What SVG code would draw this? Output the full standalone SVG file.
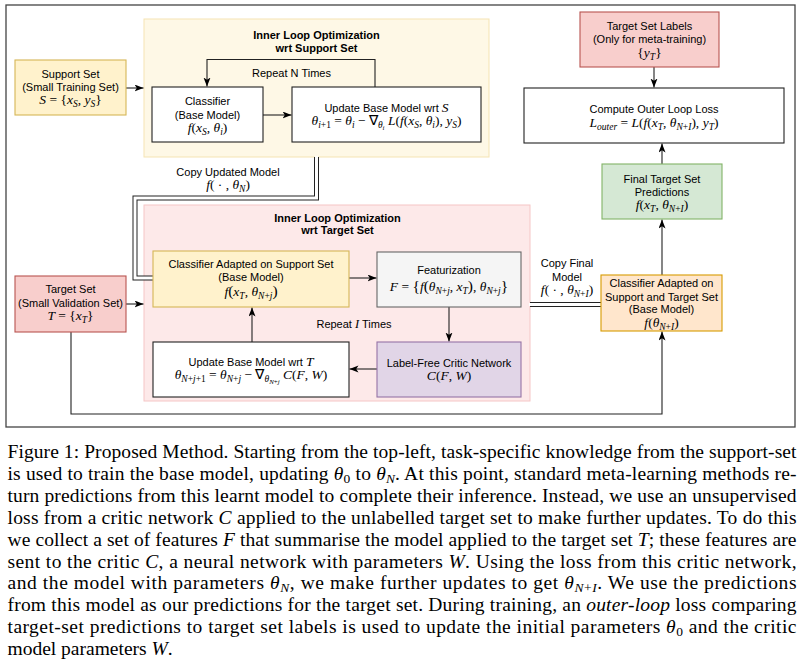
<svg xmlns="http://www.w3.org/2000/svg" width="802" height="661" viewBox="0 0 802 661">
<style>
.t{font-family:"Liberation Sans",Arial,Helvetica,sans-serif;font-size:11px;text-anchor:middle;fill:#000}
.b{font-weight:bold}
.m{font-family:"Liberation Serif","Times New Roman",serif;font-size:13.5px;text-anchor:middle;fill:#000}
.i{font-style:italic}
.s{font-size:9.5px}
.ss{font-size:7px}
.cap{font-family:"Liberation Serif","Times New Roman",serif;font-size:19.5px;fill:#000}
.cs{font-size:13.5px}
.conn{fill:none;stroke:#222;stroke-width:1.1}
.dblo{fill:none;stroke:#222;stroke-width:5}
.dbli{fill:none;stroke:#fff;stroke-width:3}
.wbox{fill:#fff;stroke:#222;stroke-width:1.1}
.yel{fill:#fff2cc;stroke:#d6b656;stroke-width:1.1}
.red{fill:#f8cecc;stroke:#b85450;stroke-width:1.1}
.org{fill:#ffe6cc;stroke:#d79b00;stroke-width:1.1}
.grn{fill:#d5e8d4;stroke:#82b366;stroke-width:1.1}
.pur{fill:#e1d5e7;stroke:#9673a6;stroke-width:1.1}
.gry{fill:#f5f5f5;stroke:#666;stroke-width:1.1}
.bp{font-size:15.5px}
</style>
<defs>
<marker id="ah" markerUnits="userSpaceOnUse" markerWidth="10" markerHeight="8" refX="9" refY="3.5" orient="auto">
<path d="M0,0 L9,3.5 L0,7 L2.3,3.5 z" fill="#000"/>
</marker>
</defs>
<rect width="802" height="661" fill="#fff"/>
<rect id="frame" x="6" y="5" width="789" height="422" fill="#fff" stroke="#444" stroke-width="1.3"/>

<g id="support-loop">
<rect x="144" y="19" width="345" height="138" fill="#fef8e6" stroke="#f5e4b3" stroke-width="1"/>
<text class="t b" x="316.5" y="38.5">Inner Loop Optimization</text>
<text class="t b" x="316.5" y="51.7">wrt Support Set</text>
<text class="t" x="291.5" y="76.7">Repeat N Times</text>
</g>
<g id="target-loop">
<rect x="144" y="205" width="386" height="196" fill="#fde9e9" stroke="#f5c6c6" stroke-width="1"/>
<text class="t b" x="337.5" y="222.3">Inner Loop Optimization</text>
<text class="t b" x="337.5" y="234.3">wrt Target Set</text>
<text class="t" x="354" y="328.3">Repeat <tspan class="m i" style="font-size:12.5px">I</tspan> Times</text>
</g>

<g id="connectors">
<path class="conn" d="M126,88 L143.5,88" marker-end="url(#ah)"/>
<path class="conn" d="M263,115 L291.5,115" marker-end="url(#ah)"/>
<path class="conn" d="M375,87 L375,59.5 L207,59.5 L207,86.5" marker-end="url(#ah)"/>
<path class="dblo" d="M316.5,157 L316.5,198 L135,198 L135,278 L153,278"/>
<path class="dbli" d="M316.5,156 L316.5,198 L135,198 L135,278 L153,278"/>
<path class="conn" d="M126,304 L143.5,304" marker-end="url(#ah)"/>
<path class="conn" d="M349,278 L376.5,278" marker-end="url(#ah)"/>
<path class="conn" d="M449,307 L449,341.5" marker-end="url(#ah)"/>
<path class="conn" d="M377,369 L349.5,369" marker-end="url(#ah)"/>
<path class="conn" d="M252,342 L252,307.5" marker-end="url(#ah)"/>
<path class="dblo" d="M530,304.5 L601,304.5"/>
<path class="dbli" d="M529,304.5 L602,304.5"/>
<path class="conn" d="M71,332 L71,414 L662,414 L662,331.5" marker-end="url(#ah)"/>
<path class="conn" d="M662,275 L662,219.5" marker-end="url(#ah)"/>
<path class="conn" d="M662,164 L662,143.5" marker-end="url(#ah)"/>
<path class="conn" d="M654,67 L654,87.5" marker-end="url(#ah)"/>
<text class="t" x="228" y="175.7">Copy Updated Model</text>
<text class="m" x="228" y="188.5"><tspan class="i">f</tspan>( · , <tspan class="i">θ</tspan><tspan class="s i" dy="3">N</tspan><tspan dy="-3">)</tspan></text>
<text class="t" x="567" y="267.3">Copy Final</text>
<text class="t" x="567" y="280.7">Model</text>
<text class="m" x="567" y="293.5"><tspan class="i">f</tspan>( · , <tspan class="i">θ</tspan><tspan class="s" dy="3"><tspan class="i">N</tspan>+<tspan class="i">I</tspan></tspan><tspan dy="-3">)</tspan></text>
</g>

<g id="support-set">
<rect class="yel" x="15" y="60" width="111" height="55"/>
<text class="t" x="70.5" y="77.5">Support Set</text>
<text class="t" x="70.5" y="90.7">(Small Training Set)</text>
<text class="m" x="70.5" y="104.3"><tspan class="i">S</tspan> = {<tspan class="i">x</tspan><tspan class="s i" dy="3">S</tspan><tspan dy="-3">, </tspan><tspan class="i">y</tspan><tspan class="s i" dy="3">S</tspan><tspan dy="-3">}</tspan></text>
</g>

<g id="classifier">
<rect class="wbox" x="152" y="87" width="111" height="55"/>
<text class="t" x="207.5" y="105">Classifier</text>
<text class="t" x="207.5" y="118.5">(Base Model)</text>
<text class="m" x="207.5" y="131.5"><tspan class="i">f</tspan>(<tspan class="i">x</tspan><tspan class="s i" dy="3">S</tspan><tspan dy="-3">, </tspan><tspan class="i">θ</tspan><tspan class="s i" dy="3">i</tspan><tspan dy="-3">)</tspan></text>
</g>

<g id="update-s">
<rect class="wbox" x="292" y="87" width="189" height="55"/>
<text class="t" x="386.5" y="111.7">Update Base Model wrt <tspan class="m i">S</tspan></text>
<text class="m" x="386.5" y="125.3"><tspan class="i">θ</tspan><tspan class="s" dy="3"><tspan class="i">i</tspan>+1</tspan><tspan dy="-3"> = </tspan><tspan class="i">θ</tspan><tspan class="s i" dy="3">i</tspan><tspan dy="-3"> − ∇</tspan><tspan class="s i" dy="3">θ</tspan><tspan class="ss i" dy="1.5">i</tspan><tspan class="i" dy="-4.5"> L</tspan>(<tspan class="i">f</tspan>(<tspan class="i">x</tspan><tspan class="s i" dy="3">S</tspan><tspan dy="-3">, </tspan><tspan class="i">θ</tspan><tspan class="s i" dy="3">i</tspan><tspan dy="-3">), </tspan><tspan class="i">y</tspan><tspan class="s i" dy="3">S</tspan><tspan dy="-3">)</tspan></text>
</g>

<g id="target-set">
<rect class="red" x="15" y="276" width="111" height="56"/>
<text class="t" x="70.5" y="293.3">Target Set</text>
<text class="t" x="70.5" y="306.7">(Small Validation Set)</text>
<text class="m" x="70.5" y="320.3"><tspan class="i">T</tspan> = {<tspan class="i">x</tspan><tspan class="s i" dy="3">T</tspan><tspan dy="-3">}</tspan></text>
</g>

<g id="adapted-support">
<rect class="yel" x="153" y="251" width="196" height="56"/>
<text class="t" x="251" y="268">Classifier Adapted on Support Set</text>
<text class="t" x="251" y="281.2">(Base Model)</text>
<text class="m" x="251" y="296.3"><tspan class="i">f</tspan><tspan class="bp">(</tspan><tspan class="i">x</tspan><tspan class="s i" dy="3">T</tspan><tspan dy="-3">, </tspan><tspan class="i">θ</tspan><tspan class="s" dy="3"><tspan class="i">N</tspan>+<tspan class="i">j</tspan></tspan><tspan dy="-3" class="bp">)</tspan></text>
</g>

<g id="featurization">
<rect class="gry" x="377" y="252" width="144" height="55"/>
<text class="t" x="449" y="274" fill="#333">Featurization</text>
<text class="m" x="449" y="291" fill="#333"><tspan class="i">F</tspan> = <tspan class="bp">{</tspan><tspan class="i">f</tspan><tspan class="bp">(</tspan><tspan class="i">θ</tspan><tspan class="s" dy="3"><tspan class="i">N</tspan>+<tspan class="i">j</tspan></tspan><tspan dy="-3">, </tspan><tspan class="i">x</tspan><tspan class="s i" dy="3">T</tspan><tspan dy="-3" class="bp">)</tspan>, <tspan class="i">θ</tspan><tspan class="s" dy="3"><tspan class="i">N</tspan>+<tspan class="i">j</tspan></tspan><tspan dy="-3" class="bp">}</tspan></text>
</g>

<g id="critic">
<rect class="pur" x="377" y="342" width="144" height="55"/>
<text class="t" x="449" y="366.7">Label-Free Critic Network</text>
<text class="m" x="449" y="379.5"><tspan class="i">C</tspan>(<tspan class="i">F</tspan>, <tspan class="i">W</tspan>)</text>
</g>

<g id="update-t">
<rect class="wbox" x="153" y="342" width="196" height="55"/>
<text class="t" x="251" y="365.5">Update Base Model wrt <tspan class="m i">T</tspan></text>
<text class="m" x="251" y="379.3"><tspan class="i">θ</tspan><tspan class="s" dy="3"><tspan class="i">N</tspan>+<tspan class="i">j</tspan>+1</tspan><tspan dy="-3"> = </tspan><tspan class="i">θ</tspan><tspan class="s" dy="3"><tspan class="i">N</tspan>+<tspan class="i">j</tspan></tspan><tspan dy="-3"> − ∇</tspan><tspan class="s i" dy="3">θ</tspan><tspan class="ss" dy="1.5"><tspan class="i">N</tspan>+<tspan class="i">j</tspan></tspan><tspan class="i" dy="-4.5"> C</tspan>(<tspan class="i">F</tspan>, <tspan class="i">W</tspan>)</text>
</g>

<g id="adapted-both">
<rect class="org" x="601" y="275" width="121" height="56"/>
<text class="t" x="661.5" y="287.3">Classifier Adapted on</text>
<text class="t" x="661.5" y="300.7">Support and Target Set</text>
<text class="t" x="661.5" y="313.3">(Base Model)</text>
<text class="m" x="661.5" y="326.5"><tspan class="i">f</tspan>(<tspan class="i">θ</tspan><tspan class="s" dy="3"><tspan class="i">N</tspan>+<tspan class="i">I</tspan></tspan><tspan dy="-3">)</tspan></text>
</g>

<g id="final-predictions">
<rect class="grn" x="602" y="164" width="120" height="55"/>
<text class="t" x="662" y="182.7">Final Target Set</text>
<text class="t" x="662" y="195.7">Predictions</text>
<text class="m" x="662" y="208.8"><tspan class="i">f</tspan>(<tspan class="i">x</tspan><tspan class="s i" dy="3">T</tspan><tspan dy="-3">, </tspan><tspan class="i">θ</tspan><tspan class="s" dy="3"><tspan class="i">N</tspan>+<tspan class="i">I</tspan></tspan><tspan dy="-3">)</tspan></text>
</g>

<g id="outer-loss">
<rect class="wbox" x="524" y="88" width="260" height="55"/>
<text class="t" x="654" y="112.7">Compute Outer Loop Loss</text>
<text class="m" x="654" y="127"><tspan class="i">L</tspan><tspan class="s i" dy="3">outer</tspan><tspan dy="-3"> = </tspan><tspan class="i">L</tspan>(<tspan class="i">f</tspan>(<tspan class="i">x</tspan><tspan class="s i" dy="3">T</tspan><tspan dy="-3">, </tspan><tspan class="i">θ</tspan><tspan class="s" dy="3"><tspan class="i">N</tspan>+<tspan class="i">I</tspan></tspan><tspan dy="-3">), </tspan><tspan class="i">y</tspan><tspan class="s i" dy="3">T</tspan><tspan dy="-3">)</tspan></text>
</g>

<g id="target-labels">
<rect class="red" x="580" y="12" width="139" height="55"/>
<text class="t" x="649.5" y="30">Target Set Labels</text>
<text class="t" x="649.5" y="43.3">(Only for meta-training)</text>
<text class="m" x="649.5" y="57">{<tspan class="i">y</tspan><tspan class="s i" dy="3">T</tspan><tspan dy="-3">}</tspan></text>
</g>

<g id="caption">
<text class="cap" x="7.5" y="458" textLength="789" lengthAdjust="spacing">Figure 1: Proposed Method. Starting from the top-left, task-specific knowledge from the support-set</text>
<text class="cap" x="7.5" y="480" textLength="789" lengthAdjust="spacing">is used to train the base model, updating <tspan class="i">θ</tspan><tspan class="cs" dy="2.5">0</tspan><tspan dy="-2.5"> to </tspan><tspan class="i">θ</tspan><tspan class="cs i" dy="2.5">N</tspan><tspan dy="-2.5">. At this point, standard meta-learning methods re-</tspan></text>
<text class="cap" x="7.5" y="501.8" textLength="789" lengthAdjust="spacing">turn predictions from this learnt model to complete their inference. Instead, we use an unsupervised</text>
<text class="cap" x="7.5" y="523.7" textLength="789" lengthAdjust="spacing">loss from a critic network <tspan class="i">C</tspan> applied to the unlabelled target set to make further updates. To do this</text>
<text class="cap" x="7.5" y="545.6" textLength="789" lengthAdjust="spacing">we collect a set of features <tspan class="i">F</tspan> that summarise the model applied to the target set <tspan class="i">T</tspan>; these features are</text>
<text class="cap" x="7.5" y="567.5" textLength="789" lengthAdjust="spacing">sent to the critic <tspan class="i">C</tspan>, a neural network with parameters <tspan class="i">W</tspan>. Using the loss from this critic network,</text>
<text class="cap" x="7.5" y="589.4" textLength="789" lengthAdjust="spacing">and the model with parameters <tspan class="i">θ</tspan><tspan class="cs i" dy="2.5">N</tspan><tspan dy="-2.5">, we make further updates to get </tspan><tspan class="i">θ</tspan><tspan class="cs" dy="2.5"><tspan class="i">N</tspan>+<tspan class="i">I</tspan></tspan><tspan dy="-2.5">. We use the predictions</tspan></text>
<text class="cap" x="7.5" y="611.3" textLength="789" lengthAdjust="spacing">from this model as our predictions for the target set. During training, an <tspan class="i">outer-loop</tspan> loss comparing</text>
<text class="cap" x="7.5" y="633.2" textLength="789" lengthAdjust="spacing">target-set predictions to target set labels is used to update the initial parameters <tspan class="i">θ</tspan><tspan class="cs" dy="2.5">0</tspan><tspan dy="-2.5"> and the critic</tspan></text>
<text class="cap" x="7.5" y="655.1">model parameters <tspan class="i">W</tspan>.</text>
</g>
</svg>
